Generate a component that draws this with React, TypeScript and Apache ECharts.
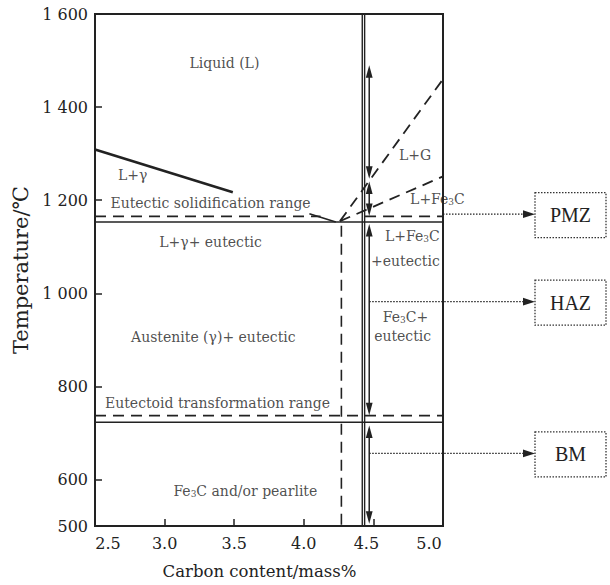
import React, { useEffect, useRef } from 'react';
import * as echarts from 'echarts';

const INK = '#222';
const FONT = 'DejaVu Serif';

// axis ticks
const yTickValues = [500, 600, 800, 1000, 1200, 1400, 1600];
const yTickLabels = ['500', '600', '800', '1 000', '1 200', '1 400', '1 600'];
const xTickValues = [2.5, 3.0, 3.5, 4.0, 4.5, 5.0];
const xTickLabels = ['2.5', '3.0', '3.5', '4.0', '4.5', '5.0'];
// small label nudges seen in the original figure (rich style names)
const xTickStyles = ['r', 'c', 'c', 'c', 'l1', 'l2'];

// phase boundaries, [carbon mass%, temperature °C]
const liquidusUpper = [[2.5, 1309], [3.49, 1217]];
const liquidusLower = [[4.04, 1171], [4.23, 1153]];
const graphiteLiquidus = [[4.26, 1155], [5.0, 1460]];
const cementiteLiquidus = [[4.26, 1155], [5.0, 1251]];
const eutecticSolid = [[2.5, 1153], [5.0, 1153]];
const eutecticRangeLeft = [[2.5, 1165], [4.12, 1165]];
const eutecticRangeRight = [[4.44, 1165], [5.0, 1165]];
const eutectoidRange = [[2.5, 737], [5.0, 737]];
const eutectoidSolid = [[2.5, 723], [5.0, 723]];
const eutecticComposition = [[4.27, 1145], [4.27, 500]];
const weldLineA = [[4.42, 500], [4.42, 1600]];
const weldLineB = [[4.437, 500], [4.437, 1600]];

// double-headed arrows (temperature spans) at one composition
const arrowX = 4.47;
const arrowTop = [1490, 1240, 1149, 716];
const arrowBottom = [1246, 1166, 738, 505];

// region labels
const regionTexts = [
  'Liquid (L)',
  'L+γ',
  'Eutectic solidification range',
  'L+γ+ eutectic',
  'Austenite (γ)+ eutectic',
  'Eutectoid transformation range',
  'Fe{s|3}C and/or pearlite',
  'L+G',
  'L+Fe{s|3}C',
  'L+Fe{s|3}C',
  '+eutectic',
  'Fe{s|3}C+',
  'eutectic',
];
const regionX = [3.43, 2.77, 3.33, 3.33, 3.35, 3.38, 3.58, 4.8, 4.96, 4.78, 4.73, 4.73, 4.71];
const regionT = [1495, 1255, 1193, 1110, 905, 765, 575, 1298, 1202, 1123, 1069, 949, 909];

// zone call-outs
const zoneNames = ['PMZ', 'HAZ', 'BM'];
const zoneX = [5.0, 4.47, 4.47];
const zoneT = [1170, 982, 656];

function lineSeries(data: number[][], width: number, dashed: boolean) {
  return {
    type: 'line',
    data,
    symbol: 'none',
    showSymbol: false,
    silent: true,
    z: 3,
    lineStyle: { color: INK, width, type: dashed ? [11, 7] : 'solid' },
  };
}

export default function App() {
  const ref = useRef<HTMLDivElement>(null);

  useEffect(() => {
    if (!ref.current) return;
    const chart = echarts.init(ref.current, undefined, { renderer: 'svg' });

    const tickText = { fontFamily: FONT, fontSize: 16, color: '#222' };

    const option: any = {
      animation: false,
      backgroundColor: '#fff',
      grid: {
        left: 95,
        right: 167,
        top: 14,
        bottom: 57,
        show: true,
        borderColor: INK,
        borderWidth: 2,
        backgroundColor: 'transparent',
      },
      xAxis: {
        type: 'value',
        min: 2.5,
        max: 5.0,
        interval: 0.5,
        name: 'Carbon content/mass%',
        nameLocation: 'middle',
        nameGap: 37,
        nameTextStyle: { fontFamily: FONT, fontSize: 16.5, color: '#222', padding: [0, 19, 0, 0] },
        axisLine: { show: true, lineStyle: { color: INK, width: 2 } },
        axisTick: { show: true, inside: true, length: 7, lineStyle: { color: INK, width: 1.5 } },
        axisLabel: {
          ...tickText,
          margin: 9,
          formatter: (v: number) => {
            const i = xTickValues.findIndex((t) => Math.abs(t - v) < 1e-6);
            return i >= 0 ? `{${xTickStyles[i]}|${xTickLabels[i]}}` : '';
          },
          rich: {
            c: { ...tickText },
            r: { ...tickText, padding: [0, 0, 0, 26] },
            l1: { ...tickText, padding: [0, 14, 0, 0] },
            l2: { ...tickText, padding: [0, 28, 0, 0] },
          },
        },
        splitLine: { show: false },
      },
      yAxis: {
        type: 'value',
        min: 500,
        max: 1600,
        interval: 100,
        name: 'Temperature/℃',
        nameLocation: 'middle',
        nameGap: 61,
        nameTextStyle: { fontFamily: FONT, fontSize: 21, color: '#222' },
        axisLine: { show: true, lineStyle: { color: INK, width: 2 } },
        axisTick: {
          show: true,
          inside: true,
          length: 7,
          lineStyle: { color: INK, width: 1.5 },
          customValues: yTickValues,
        },
        axisLabel: {
          ...tickText,
          margin: 7,
          customValues: yTickValues,
          formatter: (v: number) => {
            const i = yTickValues.indexOf(v);
            return i >= 0 ? yTickLabels[i] : '';
          },
        },
        splitLine: { show: false },
      },
      series: [
        lineSeries(liquidusUpper, 2.6, false),
        lineSeries(liquidusLower, 1.5, false),
        lineSeries(graphiteLiquidus, 1.8, true),
        lineSeries(cementiteLiquidus, 1.8, true),
        lineSeries(eutecticSolid, 1.5, false),
        lineSeries(eutecticRangeLeft, 1.8, true),
        lineSeries(eutecticRangeRight, 1.8, true),
        lineSeries(eutectoidRange, 1.8, true),
        lineSeries(eutectoidSolid, 1.5, false),
        lineSeries(eutecticComposition, 1.6, true),
        lineSeries(weldLineA, 1.4, false),
        lineSeries(weldLineB, 1.4, false),
        {
          type: 'custom',
          silent: true,
          z: 4,
          encode: { x: 0, y: [1, 2] },
          data: arrowTop.map((t, i) => [arrowX, t, arrowBottom[i]]),
          renderItem: (_p: any, api: any) => {
            const a = api.coord([api.value(0), api.value(1)]);
            const b = api.coord([api.value(0), api.value(2)]);
            const x = a[0];
            const hw = 3.4;
            const hl = 12.5;
            return {
              type: 'group',
              children: [
                {
                  type: 'line',
                  shape: { x1: x, y1: a[1] + 4, x2: x, y2: b[1] - 4 },
                  style: { stroke: INK, lineWidth: 1.5 },
                },
                {
                  type: 'polygon',
                  shape: { points: [[x, a[1]], [x - hw, a[1] + hl], [x + hw, a[1] + hl]] },
                  style: { fill: INK },
                },
                {
                  type: 'polygon',
                  shape: { points: [[x, b[1]], [x - hw, b[1] - hl], [x + hw, b[1] - hl]] },
                  style: { fill: INK },
                },
              ],
            };
          },
        },
        {
          type: 'custom',
          silent: true,
          clip: false,
          z: 4,
          encode: { x: 0, y: 1 },
          data: zoneX.map((x, i) => [x, zoneT[i]]),
          renderItem: (params: any, api: any) => {
            const p = api.coord([api.value(0), api.value(1)]);
            const y = p[1];
            const boxL = 535;
            const boxW = 71;
            const boxH = 45;
            return {
              type: 'group',
              children: [
                {
                  type: 'line',
                  shape: { x1: p[0], y1: y, x2: boxL - 9, y2: y },
                  style: { stroke: INK, lineWidth: 1.3, lineDash: [1.5, 1.5] },
                },
                {
                  type: 'polygon',
                  shape: { points: [[boxL, y], [boxL - 12, y - 3.8], [boxL - 12, y + 3.8]] },
                  style: { fill: INK },
                },
                {
                  type: 'rect',
                  shape: { x: boxL, y: y - boxH / 2 + 1, width: boxW, height: boxH },
                  style: { fill: 'none', stroke: '#333', lineWidth: 1.3, lineDash: [1.5, 1.5] },
                },
                {
                  type: 'text',
                  x: boxL + boxW / 2,
                  y: y + 1,
                  style: {
                    text: zoneNames[params.dataIndex],
                    fontFamily: 'Liberation Serif',
                    fontSize: 20,
                    fill: INK,
                    align: 'center',
                    verticalAlign: 'middle',
                  },
                },
              ],
            };
          },
        },
        {
          type: 'scatter',
          silent: true,
          z: 5,
          symbolSize: 1,
          itemStyle: { color: 'rgba(0,0,0,0)' },
          data: regionX.map((x, i) => [x, regionT[i], regionTexts[i]]),
          label: {
            show: true,
            position: 'inside',
            fontFamily: FONT,
            fontSize: 14,
            color: '#222',
            formatter: (p: any) => p.data[2],
            rich: {
              s: { fontFamily: FONT, fontSize: 9, color: '#222', verticalAlign: 'bottom', padding: [4, 0, 0, 0] },
            },
          },
        },
      ],
    };

    chart.setOption(option);
    return () => chart.dispose();
  }, []);

  return (
    <div
      ref={ref}
      style={{ position: 'absolute', left: 0, top: 0, width: 610, height: 585, background: '#fff' }}
    />
  );
}
